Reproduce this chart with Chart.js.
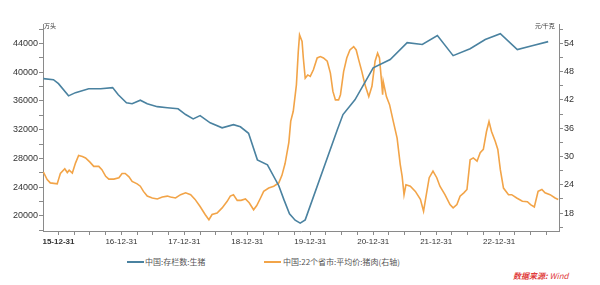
<!DOCTYPE html>
<html>
<head>
<meta charset="utf-8">
<script src="https://cdn.jsdelivr.net/npm/chart.js@4.4.0/dist/chart.umd.min.js"></script>
<style>
  body { margin: 0; background: #fff; font-family: "Liberation Sans", "Noto Sans CJK SC", sans-serif; }
  #wrap { position: relative; width: 600px; height: 285px; overflow: hidden; }
  #box { position: absolute; left: 0; top: 0; width: 600px; height: 250px; }
  .unit { position: absolute; top: 21px; font-size: 6px; color: #333; white-space: nowrap; }
  .lg { position: absolute; top: 256px; font-size: 8px; color: #555; white-space: nowrap; font-family: "Noto Sans CJK SC", sans-serif; }
  .lgline { position: absolute; top: 261px; height: 1.5px; width: 17px; }
  #src { position: absolute; left: 513px; top: 270px; font-size: 8px; color: #e03a3a; font-style: italic; font-family: "Noto Sans CJK SC", sans-serif; }
</style>
</head>
<body>
<div id="wrap">
  <div id="box"><canvas id="chart"></canvas></div>
  <span class="unit" style="left:44px">万头</span>
  <span class="unit" style="left:535px">元/千克</span>
  <span class="lgline" style="left:127px;background:#4a82a0"></span>
  <span class="lg" style="left:145px">中国:存栏数:生猪</span>
  <span class="lgline" style="left:264px;background:#f2a448"></span>
  <span class="lg" style="left:283px">中国:22个省市:平均价:猪肉(右轴)</span>
  <span id="src"><b>数据来源:</b> Wind</span>
</div>
<script>
// x values are decimal years (2016.0 = 15-12-31)
var invX = [2015.76, 2015.92, 2016.00, 2016.16, 2016.27, 2016.48, 2016.67, 2016.86, 2016.95, 2017.08,
            2017.17, 2017.30, 2017.41, 2017.57, 2017.73, 2017.90, 2018.02, 2018.14, 2018.25, 2018.41,
            2018.60, 2018.78, 2018.89, 2019.02, 2019.16, 2019.32, 2019.50, 2019.58, 2019.67, 2019.76,
            2019.84, 2019.92, 2020.43, 2020.52, 2020.71, 2021.00, 2021.27, 2021.54, 2021.78, 2022.02,
            2022.27, 2022.54, 2022.78, 2023.02, 2023.29, 2023.54, 2023.78];
var invY = [39100, 38950, 38400, 36700, 37150, 37700, 37700, 37850, 36850, 35750,
            35600, 36100, 35600, 35200, 35050, 34900, 34100, 33500, 33950, 32950,
            32250, 32700, 32400, 31500, 27800, 27100, 24200, 22300, 20300, 19400,
            19000, 19450, 32000, 34100, 36150, 40600, 41750, 44100, 43850, 45100,
            42300, 43250, 44550, 45350, 43150, 43700, 44250];

var priceX = [2015.76, 2015.82, 2015.87, 2015.98, 2016.00, 2016.03, 2016.10, 2016.14, 2016.17, 2016.22,
              2016.27, 2016.32, 2016.38, 2016.43, 2016.50, 2016.56, 2016.64, 2016.69, 2016.75, 2016.80,
              2016.88, 2016.96, 2017.01, 2017.06, 2017.12, 2017.17, 2017.25, 2017.30, 2017.35, 2017.41,
              2017.49, 2017.57, 2017.65, 2017.73, 2017.78, 2017.86, 2017.94, 2018.02, 2018.10, 2018.17,
              2018.25, 2018.33, 2018.39, 2018.44, 2018.52, 2018.60, 2018.68, 2018.73, 2018.78, 2018.84,
              2018.90, 2018.97, 2019.03, 2019.10, 2019.15, 2019.21, 2019.26, 2019.34, 2019.42, 2019.50,
              2019.55, 2019.60, 2019.66, 2019.69, 2019.73, 2019.78, 2019.81, 2019.83, 2019.87, 2019.89,
              2019.92, 2019.96, 2020.00, 2020.05, 2020.11, 2020.16, 2020.21, 2020.27, 2020.32, 2020.36,
              2020.40, 2020.45, 2020.48, 2020.53, 2020.58, 2020.63, 2020.69, 2020.73, 2020.77, 2020.82,
              2020.87, 2020.93, 2020.98, 2021.03, 2021.07, 2021.10, 2021.13, 2021.15, 2021.16, 2021.21,
              2021.26, 2021.32, 2021.38, 2021.43, 2021.46, 2021.49, 2021.52, 2021.59, 2021.67, 2021.75,
              2021.80, 2021.84, 2021.89, 2021.95, 2022.01, 2022.06, 2022.14, 2022.22, 2022.27, 2022.33,
              2022.38, 2022.44, 2022.49, 2022.54, 2022.59, 2022.65, 2022.70, 2022.75, 2022.80, 2022.84,
              2022.88, 2022.94, 2022.98, 2023.02, 2023.07, 2023.15, 2023.20, 2023.28, 2023.37, 2023.45,
              2023.50, 2023.56, 2023.62, 2023.68, 2023.73, 2023.81, 2023.89, 2023.94];
var priceY = [26.7, 25.1, 24.4, 24.2, 25.1, 26.4, 27.4, 26.6, 27.1, 26.5,
              28.6, 30.2, 30.0, 29.7, 28.8, 27.9, 27.9, 27.2, 25.8, 25.2,
              25.2, 25.5, 26.4, 26.4, 25.7, 24.7, 24.2, 23.7, 22.6, 21.6,
              21.2, 21.0, 21.4, 21.6, 21.4, 21.2, 21.9, 22.3, 21.9, 20.9,
              19.4, 17.7, 16.6, 17.7, 18.0, 19.1, 20.5, 21.6, 21.9, 20.7,
              20.7, 21.0, 20.2, 18.7, 19.6, 21.2, 22.6, 23.3, 23.7, 24.4,
              26.0, 28.5, 33.0, 37.5, 39.6, 45.2, 52.3, 55.8, 54.4, 50.9,
              46.6, 47.3, 47.0, 48.4, 50.9, 51.2, 50.9, 50.2, 47.7, 43.8,
              42.0, 42.0, 43.1, 48.0, 50.9, 52.6, 53.3, 52.6, 50.5, 48.0,
              45.2, 42.7, 44.9, 50.2, 51.9, 50.9, 46.3, 43.1, 45.9, 42.7,
              41.0, 37.4, 33.9, 28.3, 25.8, 21.9, 24.0, 23.7, 22.6, 20.9,
              18.4, 21.6, 25.5, 26.9, 25.5, 23.7, 21.9, 19.8, 19.1, 19.8,
              21.6, 22.3, 23.0, 29.3, 29.7, 29.0, 30.8, 31.5, 35.3, 37.4,
              35.3, 33.2, 31.5, 27.2, 23.3, 21.9, 21.9, 21.2, 20.5, 20.4,
              19.8, 19.3, 22.6, 23.0, 22.3, 21.9, 21.2, 20.9];

var yearTicks = [2016, 2017, 2018, 2019, 2020, 2021, 2022, 2023];
var yearLabels = ['15-12-31', '16-12-31', '17-12-31', '18-12-31', '19-12-31', '20-12-31', '21-12-31', '22-12-31'];
var leftLabels = [20000, 24000, 28000, 32000, 36000, 40000, 44000];
var rightLabels = [18, 24, 30, 36, 42, 48, 54];

function toPoints(xs, ys) {
  return xs.map(function (x, i) { return { x: x, y: ys[i] }; });
}

var tickFont = { family: '"Liberation Sans", Arial, sans-serif', size: 9 };
var axisGrid = { display: true, drawOnChartArea: false, drawTicks: true, tickLength: 4, color: '#8a8a8a' };
var axisBorder = { display: true, color: '#8a8a8a', width: 1 };

new Chart(document.getElementById('chart'), {
  type: 'line',
  data: {
    datasets: [{
      label: '中国:存栏数:生猪',
      data: toPoints(invX, invY),
      yAxisID: 'yL',
      borderColor: '#4a82a0',
      borderWidth: 1.6,
      pointRadius: 0,
      tension: 0,
      order: 0
    }, {
      label: '中国:22个省市:平均价:猪肉(右轴)',
      data: toPoints(priceX, priceY),
      yAxisID: 'yR',
      borderColor: '#f2a448',
      borderWidth: 1.6,
      pointRadius: 0,
      tension: 0,
      order: 1
    }]
  },
  options: {
    responsive: true,
    maintainAspectRatio: false,
    animation: false,
    devicePixelRatio: 1,
    layout: { padding: { top: 24, left: 0, right: 0, bottom: 0 } },
    plugins: { legend: { display: false }, tooltip: { enabled: false } },
    scales: {
      x: {
        type: 'linear',
        min: 2015.754,
        max: 2023.952,
        grid: axisGrid,
        border: axisBorder,
        afterBuildTicks: function (scale) {
          var t = [];
          for (var v = 2016; v <= 2023.75; v += 0.25) t.push({ value: v });
          scale.ticks = t;
        },
        afterFit: function (scale) { scale.height = 19; },
        ticks: {
          autoSkip: false,
          maxRotation: 0,
          padding: 2,
          color: '#333',
          font: function (ctx) {
            var bold = ctx.tick && ctx.tick.value === yearTicks[0];
            return { family: '"Liberation Sans", Arial, sans-serif', size: 8, weight: bold ? 'bold' : 'normal' };
          },
          callback: function (v) {
            var i = yearTicks.indexOf(v);
            return i >= 0 ? yearLabels[i] : '';
          }
        }
      },
      yL: {
        position: 'left',
        min: 17900,
        max: 46700,
        grid: axisGrid,
        border: axisBorder,
        afterBuildTicks: function (scale) {
          var t = [];
          for (var v = 18000; v <= 46000; v += 2000) t.push({ value: v });
          scale.ticks = t;
        },
        afterFit: function (scale) { scale.width = 43; },
        ticks: {
          padding: 1,
          color: '#333',
          font: tickFont,
          callback: function (v) { return leftLabels.indexOf(v) >= 0 ? String(v) : ''; }
        }
      },
      yR: {
        position: 'right',
        min: 14.2,
        max: 58.1,
        grid: axisGrid,
        border: axisBorder,
        afterBuildTicks: function (scale) {
          var t = [];
          for (var v = 15; v <= 57; v += 3) t.push({ value: v });
          scale.ticks = t;
        },
        afterFit: function (scale) { scale.width = 41; },
        ticks: {
          padding: 1,
          color: '#333',
          font: tickFont,
          callback: function (v) { return rightLabels.indexOf(v) >= 0 ? String(v) : ''; }
        }
      }
    }
  }
});
</script>
</body>
</html>
